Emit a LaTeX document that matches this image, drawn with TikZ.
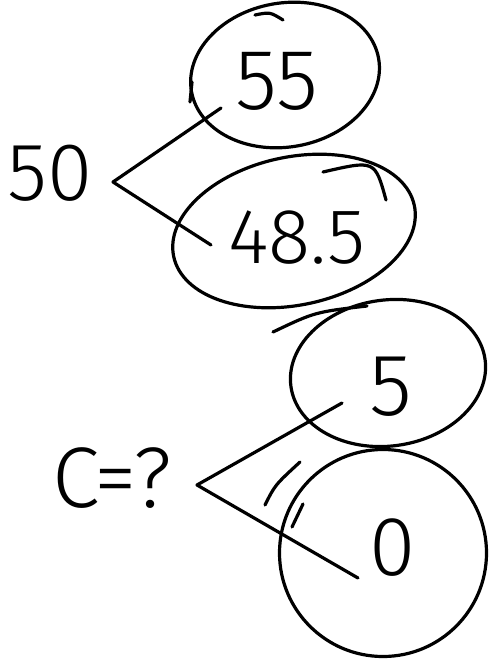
\documentclass[tikz,border=0pt]{standalone}
\usepackage{fontspec}
\newfontfamily\hand{Fira Sans Light}
\begin{document}
\begin{tikzpicture}[x=1pt,y=-1pt,line width=3.2pt,line cap=round,line join=round,
  num/.style={font=\hand\fontsize{#1}{#1}\selectfont,inner sep=0pt},
  num/.default=78,
  tie/.style={draw}]
\useasboundingbox (0,0) rectangle (488,660);
% texts
\node[num=82] (n50) at (50,173) {50};
\node[num=86] (n55) at (277,81) {55};
\node[num] (n485) at (297,238) {48.5};
\node[num=86] (nc) at (112,478) {C=?};
\node[num=88] (n5) at (391,387) {5};
\node[num=84] (n0) at (393,548) {0};
% rings
\coordinate (c55) at (285,75);
\coordinate (c485) at (294,231);
\coordinate (c5) at (388,373);
\coordinate (c0) at (383,553);
\draw[rotate around={10:(c55)}] (c55) ellipse [x radius=95, y radius=72];
\draw[rotate around={12:(c485)}] (c485) ellipse [x radius=123, y radius=74];
\draw[rotate around={8:(c5)}] (c5) ellipse [x radius=98, y radius=73];
\draw (c0) circle [radius=103.5];
% connectors
\coordinate (j1) at (113,182);
\coordinate (t55) at (221,108);
\coordinate (t485) at (211,245);
\coordinate (j2) at (197,485);
\coordinate (t5) at (342,403);
\coordinate (t0) at (358,578);
\draw[tie] (t55) -- (j1) -- (t485);
\draw[tie] (t5) -- (j2) -- (t0);
% stray strokes
\draw (255,15) .. controls (270,12) .. (283,20);
\draw (192,82) -- (190,102);
\draw (323,172) .. controls (375,160) .. (386,200);
\draw (273,332) .. controls (315,312) .. (367,306);
\draw (265,505) .. controls (275,485) .. (300,462);
\draw (303,504) -- (292,527);
\end{tikzpicture}
\end{document}
